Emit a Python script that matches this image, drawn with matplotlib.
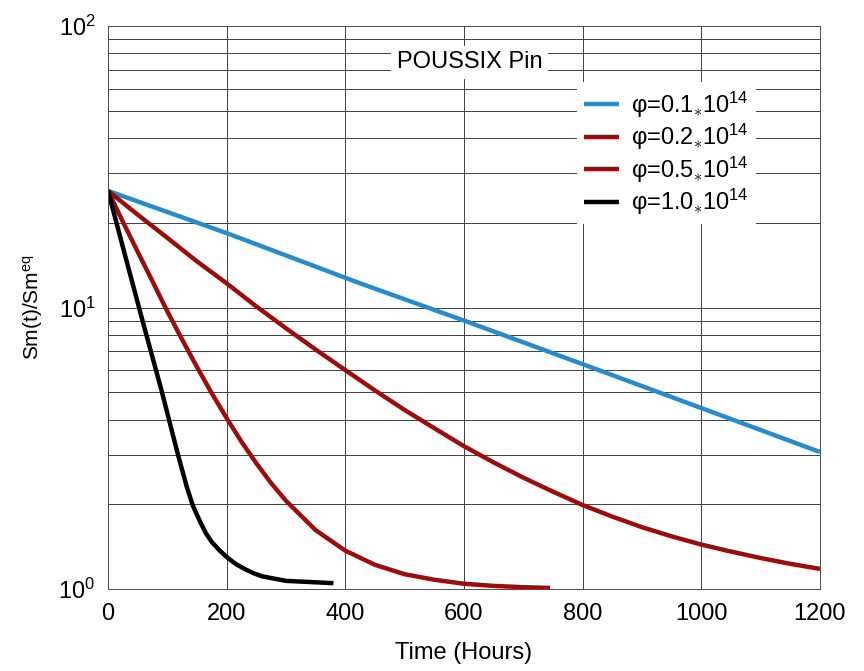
import matplotlib.pyplot as plt
import numpy as np

plt.rcParams['font.family'] = ['Liberation Sans', 'DejaVu Sans']
plt.rcParams['mathtext.fontset'] = 'custom'
plt.rcParams['mathtext.rm'] = 'Liberation Sans'
plt.rcParams['mathtext.it'] = 'Liberation Sans:italic'

# phi = 0.1e14
t_01 = [0, 200, 425, 600, 800, 1000, 1200]
s_01 = [26, 18.4, 12.2, 9.0, 6.3, 4.4, 3.07]

# phi = 0.2e14
t_02 = [0, 50, 100, 150, 200, 250, 300, 350, 400, 450, 500, 550, 600, 650, 700,
        750, 800, 850, 900, 950, 1000, 1050, 1100, 1150, 1200]
s_02 = [26, 21.4, 17.7, 14.6, 12.2, 10.1, 8.45, 7.1, 6.0, 5.08, 4.33, 3.73, 3.22, 2.82, 2.49,
        2.22, 1.99, 1.81, 1.66, 1.54, 1.44, 1.36, 1.29, 1.23, 1.18]

# phi = 0.5e14
t_05 = [0, 25, 50, 75, 100, 125, 150, 175, 200, 225, 250, 275, 300, 350, 400,
        450, 500, 550, 600, 650, 700, 745]
s_05 = [26, 20.2, 15.8, 12.4, 9.7, 7.7, 6.15, 4.96, 4.05, 3.34, 2.8, 2.38, 2.06, 1.62, 1.37,
        1.22, 1.13, 1.08, 1.045, 1.027, 1.016, 1.01]

# phi = 1.0e14
t_10 = [0, 30, 60, 90, 118, 125, 133, 143, 155, 165, 175, 187, 200, 215, 230,
        245, 260, 280, 300, 340, 380]
s_10 = [26, 15.0, 8.7, 5.1, 3.0, 2.65, 2.3, 1.98, 1.74, 1.58, 1.47, 1.38, 1.30, 1.23, 1.18,
        1.14, 1.11, 1.09, 1.07, 1.06, 1.05]

labels = ['φ=0.1$_{\\ast}$10$^{14}$', 'φ=0.2$_{\\ast}$10$^{14}$',
          'φ=0.5$_{\\ast}$10$^{14}$', 'φ=1.0$_{\\ast}$10$^{14}$']
colors = ['#2a8bcc', '#9a0d0d', '#9a0d0d', '#000000']

fig = plt.figure(figsize=(8.64, 6.71), dpi=100)
ax = fig.add_axes([0.125, 0.122, 0.824, 0.839])

for t, s, lab, c in zip([t_01, t_02, t_05, t_10], [s_01, s_02, s_05, s_10], labels, colors):
    ax.plot(t, s, color=c, lw=3.2, label=lab, solid_capstyle='butt', solid_joinstyle='round')

ax.set_yscale('log')
ax.set_xlim(0, 1200)
ax.set_ylim(1, 100)
ax.set_xticks(np.arange(0, 1201, 200))
ax.grid(True, which='major', axis='both', color='0.25', lw=0.7)
ax.grid(True, which='minor', axis='y', color='0.25', lw=0.7)
ax.tick_params(which='both', length=0, labelsize=17)
ax.tick_params(axis='x', pad=10)
ax.tick_params(axis='y', pad=9)
for sp in ax.spines.values():
    sp.set_linewidth(0.7)
    sp.set_color('0.3')

ax.set_xlabel('Time (Hours)', fontsize=17, labelpad=12)
ax.set_ylabel('Sm(t)/Sm$^{\\mathregular{eq}}$', fontsize=15, labelpad=10)

ax.text(0.508, 0.936, 'POUSSIX Pin', transform=ax.transAxes, ha='center', va='center',
        fontsize=17, bbox=dict(facecolor='white', edgecolor='none', pad=4))

leg = ax.legend(loc='upper left', bbox_to_anchor=(0.642, 0.921), fontsize=17,
                frameon=True, fancybox=False, framealpha=1, edgecolor='none',
                handlelength=1.5, handletextpad=0.5, labelspacing=0.1, borderpad=0.3)

fig.savefig('out.png', dpi=100, facecolor='white')
